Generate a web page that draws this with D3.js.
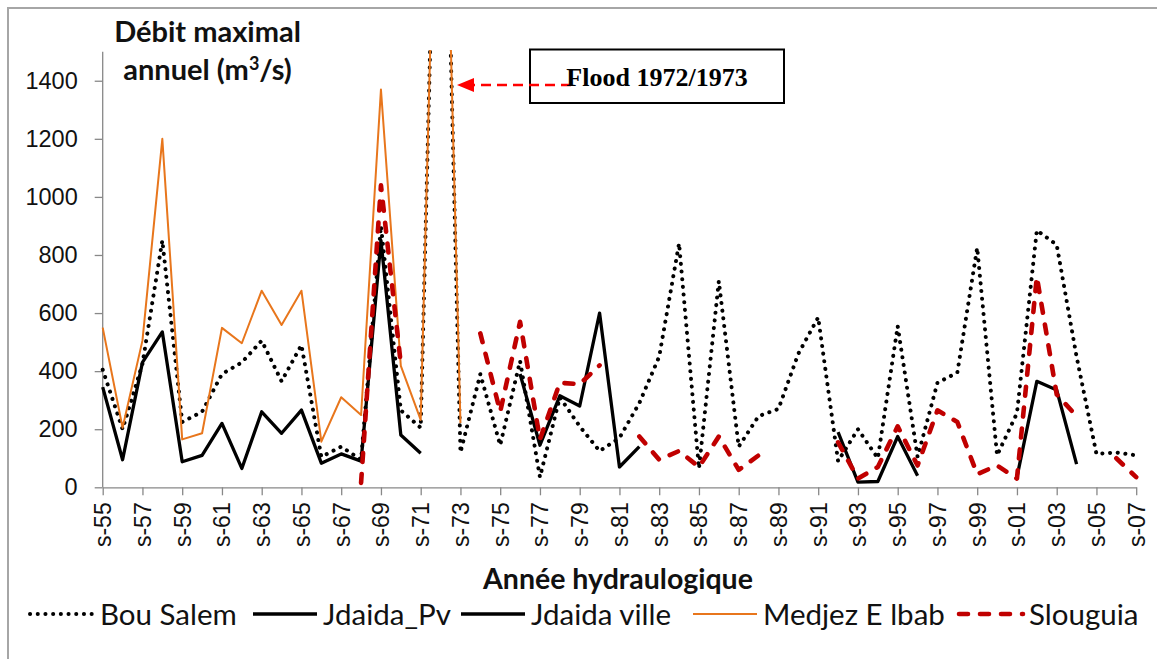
<!DOCTYPE html>
<html>
<head>
<meta charset="utf-8">
<script src="https://cdn.jsdelivr.net/npm/d3@7"></script>
<style>
	body { margin: 0; background: #fff; }
	svg { display: block; font-family: Lato, "Open Sans", sans-serif; }
</style>
</head>
<body>
<svg width="1157" height="659"></svg>
<script>
'use strict';

const years = d3.range(1955, 2008).map(y => "s-" + String(y % 100).padStart(2, "0"));
const yTicks = [0, 200, 400, 600, 800, 1000, 1200, 1400];

// one value per year (1955..2007), null = no measurement
const bouSalem = [405, 200, 425, 850, 225, 260, 390, 430, 505, 365, 490, 105, 140, 95, 900, 265, 205, 2950,
	120, 390, 145, 435, 35, 310, 210, 125, 170, 290, 450, 840, 65, 710, 140, 245, 270, 460, 585, 90, 200,
	100, 555, 105, 360, 395, 825, 110, 255, 885, 835, 450, 115, 120, 110];
const jdaidaPv = [345, 95, 430, 535, 88, 110, 220, 65, 260, 186, 266, 83, 115, 90, 850, 180, 117, null,
	null, null, null, null, null, null, null, null, null, null, null, null, null, null, null, null, null, null, null, null, null,
	null, null, null, null, null, null, null, null, null, null, null, null, null, null];
const jdaidaVille = [null, null, null, null, null, null, null, null, null, null, null, null, null, null, null, null, null, null,
	null, null, null, 390, 145, 315, 280, 600, 70, 140, null, null, null, null, null, null, null, null, null, 190, 18,
	20, 175, 40, null, null, null, null, 35, 365, 335, 80, null, null, null];
const medjez = [550, 205, 505, 1200, 165, 186, 549, 496, 677, 559, 677, 157, 310, 249, 1370, 418, 232, 2900,
	221, null, null, null, null, null, null, null, null, null, null, null, null, null, null, null, null, null, null, null, null,
	null, null, null, null, null, null, null, null, null, null, null, null, null, null];
const slouguia = [null, null, null, null, null, null, null, null, null, null, null, null, null, 15, 1040, 425, null, null,
	null, 530, 260, 570, 165, 360, 355, 420, null, 175, 95, 125, 70, 175, 60, 110, null, null, null, 155, 30,
	70, 210, 75, 265, 225, 45, 75, 30, 725, 320, 245, null, 100, 35];

const series = [
	{ name: "Bou Salem", values: bouSalem, color: "#000", width: 4, dash: "0.1 7.6", cap: "round" },
	{ name: "Jdaida_Pv", values: jdaidaPv, color: "#000", width: 3.3, dash: null, cap: "butt" },
	{ name: "Jdaida ville", values: jdaidaVille, color: "#000", width: 3.3, dash: null, cap: "butt" },
	{ name: "Medjez E lbab", values: medjez, color: "#e8761c", width: 2, dash: null, cap: "butt" },
	{ name: "Slouguia", values: slouguia, color: "#c00000", width: 4.6, dash: "9 12", cap: "round" }
];

const svg = d3.select("svg");
const axisColor = "#888";

// outer chart border
svg.append("rect")
	.attr("x", 8).attr("y", 8)
	.attr("width", 1170).attr("height", 670)
	.attr("fill", "none")
	.attr("stroke", "#a6a6a6")
	.attr("stroke-width", 2);

const x = d3.scalePoint().domain(years).range([102.7, 1136.2]);
const y = d3.scaleLinear().domain([0, 1500]).range([487.3, 51.7]);

svg.append("clipPath").attr("id", "plot")
	.append("rect")
	.attr("x", 95).attr("y", 50)
	.attr("width", 1050).attr("height", 445);

// y axis
const yAxis = svg.append("g")
	.attr("transform", "translate(102.7,0)")
	.call(d3.axisLeft(y).tickValues(yTicks).tickSize(8).tickPadding(17).tickFormat(d3.format("d")));
yAxis.select(".domain").attr("stroke", axisColor).attr("stroke-width", 1.3).attr("d", "M0,487.3V51.7");
yAxis.selectAll(".tick line").attr("stroke", axisColor).attr("stroke-width", 1.3);
yAxis.selectAll(".tick text")
	.attr("fill", "#111")
	.style("font-size", "23.5px");

// x axis
const xAxis = svg.append("g")
	.attr("transform", "translate(0,487.3)")
	.call(d3.axisBottom(x).tickValues(years.filter((d, i) => i % 2 === 0)).tickSize(8).tickSizeOuter(0));
xAxis.select(".domain").attr("stroke", axisColor).attr("stroke-width", 1.3);
xAxis.selectAll(".tick line").attr("stroke", axisColor).attr("stroke-width", 1.3);
xAxis.selectAll(".tick text")
	.attr("fill", "#111")
	.style("font-size", "23px")
	.attr("text-anchor", "end")
	.attr("dominant-baseline", "central")
	.attr("dy", null)
	.attr("y", 0)
	.attr("transform", "translate(0,15) rotate(-90)");

// data lines
const line = d3.line()
	.defined(d => d[1] != null)
	.x(d => x(d[0]))
	.y(d => y(d[1]));

const lines = svg.append("g").attr("clip-path", "url(#plot)");
lines.selectAll("path")
	.data(series)
	.enter().append("path")
	.attr("d", s => line(years.map((yr, i) => [yr, s.values[i]])))
	.attr("fill", "none")
	.attr("stroke", s => s.color)
	.attr("stroke-width", s => s.width)
	.attr("stroke-dasharray", s => s.dash)
	.attr("stroke-linecap", s => s.cap)
	.attr("stroke-linejoin", "round");

// axis titles
const yTitle = svg.append("text")
	.attr("text-anchor", "middle")
	.attr("font-weight", "bold")
	.style("font-size", "29px")
	.attr("fill", "#111");
yTitle.append("tspan").attr("x", 207.5).attr("y", 42).text("Débit maximal");
const t2 = yTitle.append("tspan").attr("x", 207.5).attr("y", 80).text("annuel (m");
t2.append("tspan").attr("dy", -10).style("font-size", "18px").text("3");
t2.append("tspan").attr("dy", 10).text("/s)");

svg.append("text")
	.attr("x", 618).attr("y", 589)
	.attr("text-anchor", "middle")
	.attr("font-weight", "bold")
	.style("font-size", "28.5px")
	.attr("fill", "#111")
	.text("Année hydraulogique");

// flood annotation
svg.append("rect")
	.attr("x", 530).attr("y", 49.5)
	.attr("width", 254).attr("height", 53.5)
	.attr("fill", "#fff")
	.attr("stroke", "#000")
	.attr("stroke-width", 2);
svg.append("line")
	.attr("x1", 571).attr("y1", 85)
	.attr("x2", 470).attr("y2", 85)
	.attr("stroke", "#f00")
	.attr("stroke-width", 2.4)
	.attr("stroke-dasharray", "10 6");
svg.append("path")
	.attr("d", "M457,85L474,78L474,92Z")
	.attr("fill", "#f00");
svg.append("text")
	.attr("x", 657).attr("y", 86)
	.attr("text-anchor", "middle")
	.attr("font-family", "'Liberation Serif', 'Times New Roman', serif")
	.attr("font-weight", "bold")
	.style("font-size", "26px")
	.text("Flood 1972/1973");

// legend
const legendX = [28, 251, 459, 691, 957];
const legend = svg.append("g").selectAll("g")
	.data(series)
	.enter().append("g")
	.attr("transform", (d, i) => "translate(" + legendX[i] + ",614)");
legend.append("line")
	.attr("x1", 2).attr("x2", 66)
	.attr("stroke", s => s.color)
	.attr("stroke-width", s => s.width)
	.attr("stroke-dasharray", s => s.dash)
	.attr("stroke-linecap", s => s.cap);
legend.append("text")
	.attr("x", 72)
	.attr("dy", "0.36em")
	.style("font-size", "29.5px")
	.attr("fill", "#111")
	.text(s => s.name);
</script>
</body>
</html>
